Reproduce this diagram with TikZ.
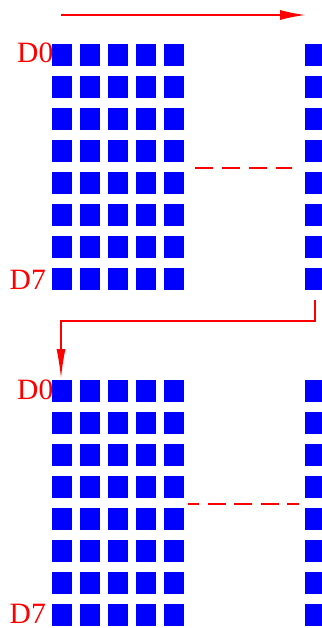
\documentclass[tikz,border=0pt]{standalone}
\usepackage{fontspec}
\setmainfont{Liberation Serif}
\usetikzlibrary{arrows.meta, positioning, calc}

\begin{document}
\begin{tikzpicture}[x=1pt, y=-1pt,
  pix/.style={fill=blue, minimum width=20pt, minimum height=22pt,
              inner sep=0pt, outer sep=0pt},
  lbl/.style={text=red, font=\fontsize{29.5}{29.5}\selectfont,
              inner sep=0pt, anchor=base east},
  flow/.style={color=red, line width=1.2pt}]
  \useasboundingbox (0,0) rectangle (321,628);
  % two blocks of pixels, upper (a) and lower (b)
  \foreach \blk/\yo in {a/44, b/380}{
    \foreach \c/\x in {0/52, 1/80, 2/108, 3/136, 4/164, 5/305}{
      \foreach \r in {0,...,7}{
        \node[pix] (\blk-\c-\r) at ({\x+10}, {\yo+11+32*\r}) {};
      }
    }
  }
  % row labels
  \node[lbl] (a-d0) at (53.5, 63) {D0};
  \node[lbl] (a-d7) at (46, 289) {D7};
  \node[lbl] (b-d0) at (53.5, 399) {D0};
  \node[lbl] (b-d7) at (46, 623.5) {D7};
  % scan direction
  \coordinate (top-s) at (61, 15);
  \coordinate (top-e) at (305, 15);
  \draw[flow, line width=1.1pt, -{Latex[length=25pt, width=10pt]}] (top-s) -- (top-e);
  % jump to the next block
  \coordinate (jmp-s) at (315, 300);
  \coordinate (jmp-m) at (315, 321);
  \coordinate (jmp-e) at (61, 378);
  \draw[flow, -{Latex[length=29pt, width=9pt]}] (jmp-s) -- (jmp-m) -| (jmp-e);
  % skipped columns
  \coordinate (gap-a1) at (195, 168);
  \coordinate (gap-a2) at (292, 168);
  \coordinate (gap-b1) at (188, 504);
  \coordinate (gap-b2) at (299, 504);
  \draw[flow, line width=1.4pt, dash pattern=on 18pt off 9pt] (gap-a1) -- (gap-a2);
  \draw[flow, line width=1.4pt, dash pattern=on 18pt off 8.5pt, dash phase=7pt] (gap-b1) -- (gap-b2);
\end{tikzpicture}
\end{document}
